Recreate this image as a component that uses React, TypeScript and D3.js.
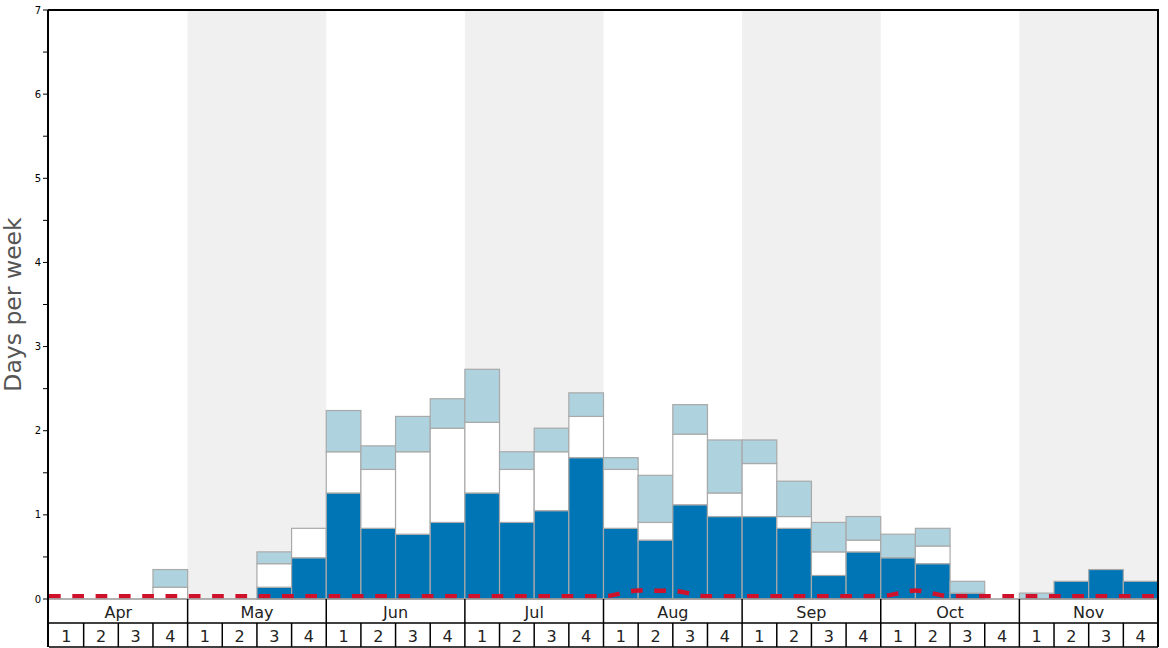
import React from "react";
import * as d3 from "d3";

const months = ["Apr", "May", "Jun", "Jul", "Aug", "Sep", "Oct", "Nov"];
const weekLabels = ["1", "2", "3", "4"];
const yTicks = [0, 1, 2, 3, 4, 5, 6, 7];
const yMinorTicks = [0.5, 1.5, 2.5, 3.5, 4.5, 5.5, 6.5];

// stacked cumulative levels per week (32 weeks)
const darkLevel = [0, 0, 0, 0, 0, 0, 0.14, 0.49, 1.26, 0.84, 0.77, 0.91, 1.26, 0.91, 1.05, 1.68, 0.84, 0.7, 1.12, 0.98, 0.98, 0.84, 0.28, 0.56, 0.49, 0.42, 0.07, 0, 0, 0.21, 0.35, 0.21];
const midLevel = [0, 0, 0, 0.14, 0, 0, 0.42, 0.84, 1.75, 1.54, 1.75, 2.03, 2.1, 1.54, 1.75, 2.17, 1.54, 0.91, 1.96, 1.26, 1.61, 0.98, 0.56, 0.7, 0.49, 0.63, 0.07, 0, 0, 0.21, 0.35, 0.21];
const topLevel = [0, 0, 0, 0.35, 0, 0, 0.56, 0.84, 2.24, 1.82, 2.17, 2.38, 2.73, 1.75, 2.03, 2.45, 1.68, 1.47, 2.31, 1.89, 1.89, 1.4, 0.91, 0.98, 0.77, 0.84, 0.21, 0, 0.07, 0.21, 0.35, 0.21];
// red dashed line, values at week starts (33 points)
const redLine = [0.033, 0.033, 0.033, 0.033, 0.033, 0.033, 0.033, 0.033, 0.033, 0.033, 0.033, 0.033, 0.033, 0.033, 0.033, 0.033, 0.033, 0.1, 0.095, 0.033, 0.033, 0.033, 0.033, 0.033, 0.035, 0.1, 0.033, 0.033, 0.033, 0.033, 0.033, 0.033, 0.033];

const W = 1168, H = 648;
const left = 49, right = 1158, top = 10, bottom = 599;
const monthRowB = 623, weekRowB = 647;

export default function App() {
  const nW = darkLevel.length;
  const x = d3.scaleLinear().domain([0, nW]).range([left, right]);
  const y = d3.scaleLinear().domain([0, 7]).range([bottom, top]);
  const line = d3.line<number>().x((_, i) => x(i)).y(d => y(d)).curve(d3.curveMonotoneX);
  const font = "DejaVu Sans, sans-serif";
  const segs: { x0: number; x1: number; y0: number; y1: number; fill: string; k: string }[] = [];
  for (let i = 0; i < nW; i++) {
    const levels = [0, darkLevel[i], midLevel[i], topLevel[i]];
    const fills = ["#0075b5", "#ffffff", "#aed3df"];
    for (let s = 0; s < 3; s++) {
      if (levels[s + 1] - levels[s] > 0.001) {
        segs.push({ x0: x(i), x1: x(i + 1), y0: y(levels[s]), y1: y(levels[s + 1]), fill: fills[s], k: `${i}-${s}` });
      }
    }
  }
  return (
    <svg width={W} height={H} style={{ position: "absolute", left: 0, top: 0 }} fontFamily={font}>
      <rect x={0} y={0} width={W} height={H} fill="#fff" />
      {months.map((m, mi) => (
        mi % 2 === 1 ? <rect key={m} x={x(mi * 4)} y={top} width={x(mi * 4 + 4) - x(mi * 4)} height={bottom - top} fill="#f0f0f0" /> : null
      ))}
      {segs.map(s => (
        <rect key={s.k} x={s.x0} y={s.y1} width={s.x1 - s.x0} height={s.y0 - s.y1} fill={s.fill} stroke="#a9a9a9" strokeWidth={1.2} />
      ))}
      <path d={line(redLine) || ""} fill="none" stroke="#d0112b" strokeWidth={4.5} strokeDasharray="11.7 11.6" />
      {/* frame */}
      <line x1={left} x2={right} y1={bottom} y2={bottom} stroke="#999" strokeWidth={1.5} />
      <line x1={left - 1} x2={right + 1} y1={top} y2={top} stroke="#000" strokeWidth={2} />
      <line x1={left - 1} x2={left - 1} y1={top} y2={weekRowB} stroke="#000" strokeWidth={2} />
      <line x1={right} x2={right} y1={top} y2={weekRowB} stroke="#000" strokeWidth={2} />
      <line x1={left} x2={right} y1={monthRowB} y2={monthRowB} stroke="#000" strokeWidth={1.5} />
      <line x1={left} x2={right} y1={weekRowB} y2={weekRowB} stroke="#000" strokeWidth={1.5} />
      {/* y ticks */}
      {yTicks.map(t => (
        <g key={t}>
          <line x1={left - 6} x2={left - 1} y1={y(t)} y2={y(t)} stroke="#000" strokeWidth={1} />
          <text x={left - 8} y={y(t)} dy="0.35em" textAnchor="end" fontSize={10} fill="#000">{t}</text>
        </g>
      ))}
      {yMinorTicks.map(t => (
        <line key={t} x1={left - 6} x2={left - 1} y1={y(t)} y2={y(t)} stroke="#000" strokeWidth={1} />
      ))}
      <text transform={`translate(21,${(top + bottom) / 2}) rotate(-90)`} textAnchor="middle" fontSize={23.5} fill="#555">Days per week</text>
      {/* month / week rows */}
      {months.map((m, mi) => (
        <g key={m}>
          {mi > 0 && <line x1={x(mi * 4)} x2={x(mi * 4)} y1={bottom} y2={weekRowB} stroke="#000" strokeWidth={1.5} />}
          <text x={(x(mi * 4) + x(mi * 4 + 4)) / 2} y={(bottom + monthRowB) / 2 + 1} dy="0.35em" textAnchor="middle" fontSize={16} fill="#222">{m}</text>
          {weekLabels.map((w, wi) => (
            <g key={w}>
              {wi > 0 && <line x1={x(mi * 4 + wi)} x2={x(mi * 4 + wi)} y1={monthRowB} y2={weekRowB} stroke="#000" strokeWidth={1.5} />}
              <text x={(x(mi * 4 + wi) + x(mi * 4 + wi + 1)) / 2} y={(monthRowB + weekRowB) / 2 + 1} dy="0.35em" textAnchor="middle" fontSize={16} fill="#222">{w}</text>
            </g>
          ))}
        </g>
      ))}
    </svg>
  );
}
